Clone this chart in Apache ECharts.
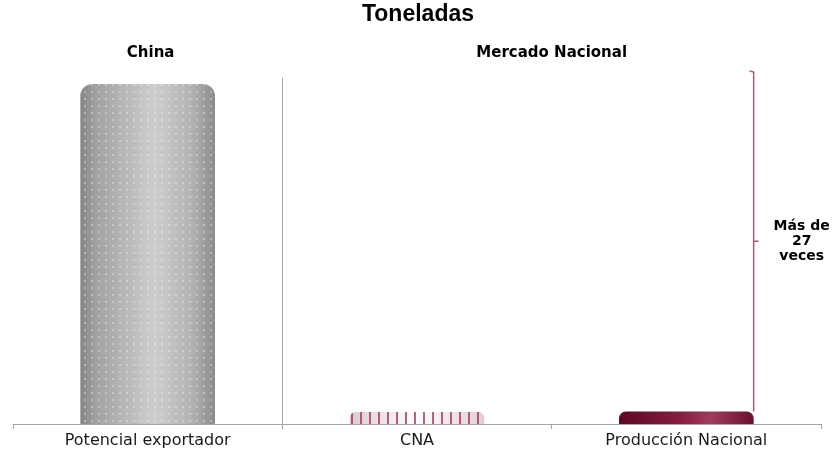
<!DOCTYPE html>
<html>
<head>
<meta charset="utf-8">
<script src="https://cdn.jsdelivr.net/npm/echarts@6/dist/echarts.min.js"></script>
<style>
html,body{margin:0;padding:0;background:#fff;}
#chart{width:836px;height:452px;}
</style>
</head>
<body>
<div id="chart"></div>
<script>
// Data (toneladas)
const categories = ['Potencial exportador', 'CNA', 'Producción Nacional'];
const tons = [340000, 12000, 12500];
const titleText = 'Toneladas';
const groupLabels = ['China', 'Mercado Nacional'];
const bracketText = 'Más de\n27\nveces';

const chart = echarts.init(document.getElementById('chart'), null, {renderer: 'canvas'});

const styles = [
  {
    color: new echarts.graphic.LinearGradient(0, 0, 1, 0, [
      {offset: 0, color: '#868686'},
      {offset: 0.12, color: '#a2a2a2'},
      {offset: 0.55, color: '#cdcdcd'},
      {offset: 0.82, color: '#b4b4b4'},
      {offset: 1, color: '#8c8c8c'}
    ]),
    borderRadius: [12, 12, 0, 0],
    decal: {
      symbol: 'circle',
      symbolSize: 0.8,
      color: 'rgba(255,255,255,0.7)',
      dashArrayX: [2, 5],
      dashArrayY: [2, 5]
    }
  },
  {
    color: new echarts.graphic.LinearGradient(0, 0, 1, 0, [
      {offset: 0, color: '#d8ccd2'},
      {offset: 0.5, color: '#ffffff'},
      {offset: 1, color: '#ddd0d6'}
    ]),
    borderRadius: [6, 6, 0, 0],
    decal: {
      symbol: 'rect',
      symbolSize: 1,
      color: 'rgba(175,40,85,0.75)',
      dashArrayX: [1.3, 6.5],
      dashArrayY: [20, 0]
    }
  },
  {
    color: new echarts.graphic.LinearGradient(0, 0, 1, 0, [
      {offset: 0, color: '#5c0824'},
      {offset: 0.45, color: '#861c3e'},
      {offset: 0.68, color: '#a23c5c'},
      {offset: 1, color: '#6a0f2e'}
    ]),
    borderRadius: [7, 7, 0, 0]
  }
];

const option = {
  animation: false,
  backgroundColor: '#ffffff',
  title: {
    text: titleText,
    left: 'center',
    top: 3,
    padding: 0,
    textStyle: {fontFamily: 'Liberation Sans', fontWeight: 'bold', fontSize: 23, color: '#000'}
  },
  grid: {left: 13, right: 15, top: 78, bottom: 28, containLabel: false},
  xAxis: {
    type: 'category',
    data: categories,
    boundaryGap: true,
    axisLine: {lineStyle: {color: '#a6a6a6', width: 1}},
    axisTick: {show: true, length: 5, lineStyle: {color: '#a6a6a6'}},
    axisLabel: {fontFamily: 'DejaVu Sans', fontSize: 16, color: '#1a1a1a', margin: 9},
    splitLine: {show: false}
  },
  yAxis: {
    type: 'value',
    min: 0,
    max: function (v) { return v.max * 346 / 340; },
    show: false,
    splitLine: {show: false}
  },
  series: [{
    type: 'bar',
    barWidth: '50%',
    data: tons.map((v, i) => ({value: v, itemStyle: styles[i]}))
  }]
};

chart.setOption(option);

function drawExtras() {
  const x0 = chart.convertToPixel({xAxisIndex: 0}, 0);
  const x1 = chart.convertToPixel({xAxisIndex: 0}, 1);
  const x2 = chart.convertToPixel({xAxisIndex: 0}, 2);
  const catW = x1 - x0;
  const xR = x2 + catW * 0.25;
  const yTop = chart.convertToPixel({yAxisIndex: 0}, tons[0]) - 13;
  const yBot = chart.convertToPixel({yAxisIndex: 0}, tons[2]);
  const yBase = chart.convertToPixel({yAxisIndex: 0}, 0);
  const yMid = (yTop + yBot) / 2;
  const xSep = Math.round(x1 - catW / 2) + 0.5;
  const bracketColor = '#a85c7e';
  chart.setOption({
    graphic: [
      {type: 'line', shape: {x1: xSep, y1: yTop + 7, x2: xSep, y2: yBase},
       style: {stroke: '#a6a6a6', lineWidth: 1}, silent: true},
      {type: 'polyline', shape: {points: [[xR - 4, yTop], [xR, yTop + 1], [xR, yBot]]},
       style: {stroke: bracketColor, lineWidth: 1.5, fill: null}, silent: true},
      {type: 'line', shape: {x1: xR, y1: yMid, x2: xR + 5, y2: yMid},
       style: {stroke: bracketColor, lineWidth: 1.5}, silent: true},
      {type: 'text', x: xR + 48, y: yMid,
       style: {text: bracketText, fontFamily: 'DejaVu Sans', fontWeight: 'bold', fontSize: 14,
               lineHeight: 15, fill: '#000', align: 'center', verticalAlign: 'middle'}, silent: true},
      {type: 'text', x: x0 + 3, y: 53,
       style: {text: groupLabels[0], fontFamily: 'DejaVu Sans', fontWeight: 'bold', fontSize: 15,
               fill: '#000', align: 'center', verticalAlign: 'middle'}, silent: true},
      {type: 'text', x: x1 + catW / 2, y: 53,
       style: {text: groupLabels[1], fontFamily: 'DejaVu Sans', fontWeight: 'bold', fontSize: 15,
               fill: '#000', align: 'center', verticalAlign: 'middle'}, silent: true}
    ]
  });
}
drawExtras();
</script>
</body>
</html>
